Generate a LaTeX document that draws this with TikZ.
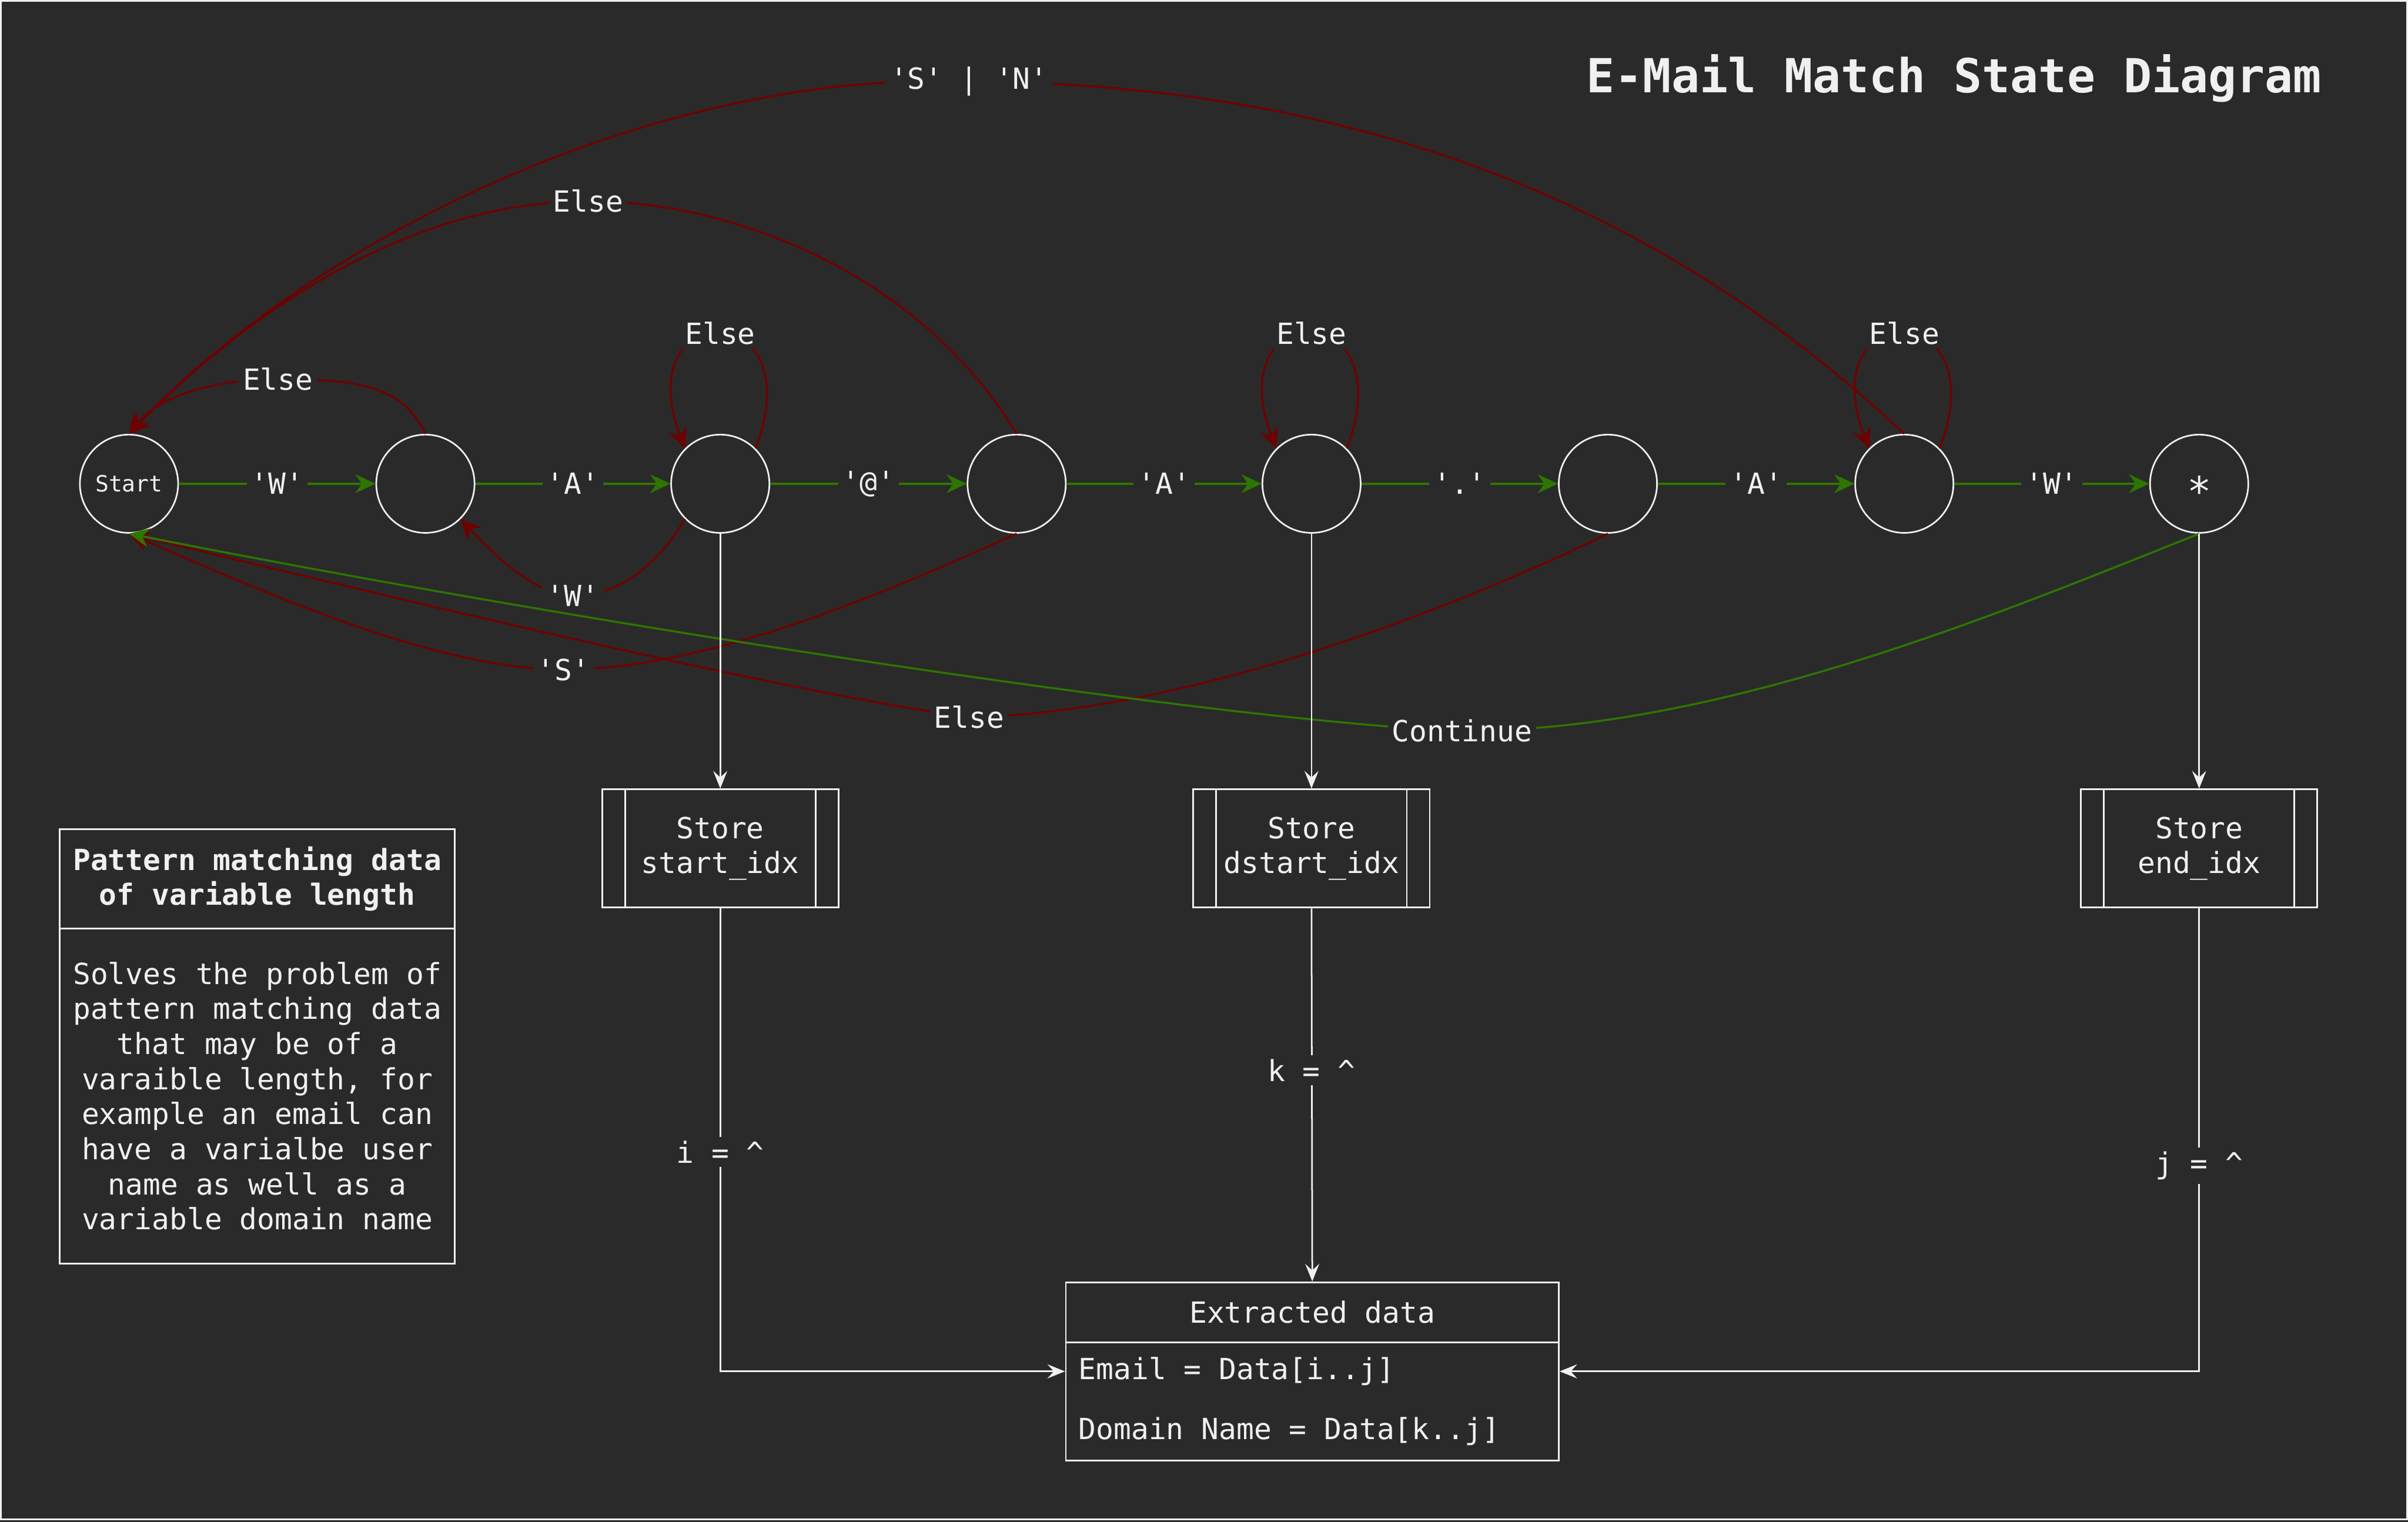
\documentclass[tikz,border=0pt]{standalone}
\usepackage{fontspec}
\setmonofont{DejaVu Sans Mono}
\usetikzlibrary{arrows.meta,calc}
\definecolor{bg}{HTML}{2A2A2A}
\definecolor{framec}{HTML}{F0F0F0}
\definecolor{fg}{HTML}{F0F0F0}
\definecolor{gr}{HTML}{2D7600}
\definecolor{rd}{HTML}{6F0000}
\newcommand\myfs{\fontsize{10.8pt}{13pt}\selectfont}
\begin{document}
\begin{tikzpicture}[x=0.02cm,y=-0.02cm,
  every node/.style={font=\ttfamily\myfs, text=fg},
  state/.style={circle, draw=fg, line width=0.6pt, minimum size=1.28cm, inner sep=0pt},
  gedge/.style={draw=gr, line width=0.75pt, -{Stealth[length=7.5pt,width=7pt,inset=2.5pt]}},
  redge/.style={draw=rd, line width=0.75pt, -{Stealth[length=7.5pt,width=7pt,inset=2.5pt]}},
  wedge/.style={draw=fg, line width=0.6pt, -{Stealth[length=6.5pt,width=5.2pt,inset=2.4pt]}},
  lbl/.style={fill=bg, inner sep=1.5pt},
  box/.style={draw=fg, line width=0.65pt, inner sep=0pt, align=center},
  proc/.style={box, minimum width=3.08cm, minimum height=1.54cm},
]
% background and frame
\fill[framec] (0,0) rectangle (1568,991);
\fill[bg] (1.3,1.3) rectangle (1566.7,988.8);
\fill[bg] (0,990.1) rectangle (1568,991);
\useasboundingbox (0,0) rectangle (1568,991);

% title
\node[anchor=east, inner sep=0pt, font=\ttfamily\bfseries\fontsize{17.4pt}{20pt}\selectfont] (title) at (1512,51) {E-Mail Match State Diagram};

% states
\node[state, font=\ttfamily\fontsize{8.3pt}{10pt}\selectfont] (s0) at (84,315) {Start};
\node[state] (s1) at (277,315) {};
\node[state] (s2) at (469,315) {};
\node[state] (s3) at (662,315) {};
\node[state] (s4) at (854,315) {};
\node[state] (s5) at (1047,315) {};
\node[state] (s6) at (1240,315) {};
\node[state, font=\ttfamily\fontsize{15pt}{15pt}\selectfont] (s7) at (1432,315) {\raisebox{-0.55em}[0pt][0pt]{*}};

% green forward transitions
\draw[gedge] (s0) -- node[lbl]{'W'} (s1);
\draw[gedge] (s1) -- node[lbl]{'A'} (s2);
\draw[gedge] (s2) -- node[lbl]{'@'} (s3);
\draw[gedge] (s3) -- node[lbl]{'A'} (s4);
\draw[gedge] (s4) -- node[lbl]{'.'} (s5);
\draw[gedge] (s5) -- node[lbl]{'A'} (s6);
\draw[gedge] (s6) -- node[lbl]{'W'} (s7);

% self loops
\draw[redge] (s2.north east) .. controls (530,192) and (408,192) .. (s2.north west) node[pos=0.5,lbl]{Else};
\draw[redge] (s4.north east) .. controls (915,192) and (793,192) .. (s4.north west) node[pos=0.5,lbl]{Else};
\draw[redge] (s6.north east) .. controls (1301,192) and (1179,192) .. (s6.north west) node[pos=0.5,lbl]{Else};

% upper returns to Start
\draw[redge] (s1.north) .. controls (262,250) and (230,247) .. (181,247) node[lbl]{Else} .. controls (130,247) and (100,262) .. (s0.north);
\draw[redge] (s3.north) .. controls (600,180) and (480,131) .. (383,131) node[lbl]{Else} .. controls (250,131) and (140,225) .. (s0.north);
\draw[redge] (s6.north) .. controls (1130,180) and (950,55) .. (631,53) node[lbl]{'S' | 'N'} .. controls (420,46) and (200,160) .. (s0.north);

% lower returns
\draw[redge] (s2.south west) .. controls (430,365) and (405,388) .. (373,388) node[lbl]{'W'} .. controls (350,388) and (322,362) .. (s1.south east);
\draw[redge] (s3.south) .. controls (600,375) and (470,436) .. (367,436) node[lbl]{'S'} .. controls (280,436) and (160,380) .. (s0.south);
\draw[redge] (s5.south) .. controls (960,390) and (780,464) .. (631,467) node[lbl]{Else} .. controls (520,452) and (300,400) .. (s0.south);
\draw[gedge] (s7.south) .. controls (1300,400) and (1120,476) .. (952,476) node[lbl]{Continue} .. controls (800,470) and (400,410) .. (s0.south);

% store boxes
\node[proc] (st1) at (469,552.5) {Store\\start\_idx};
\node[proc] (st2) at (854,552.5) {Store\\dstart\_idx};
\node[proc] (st3) at (1432,552.5) {Store\\end\_idx};
\foreach \n in {st1,st2,st3} {
  \draw[fg, line width=0.65pt] ([xshift=0.31cm]\n.north west) -- ([xshift=0.31cm]\n.south west);
  \draw[fg, line width=0.65pt] ([xshift=-0.31cm]\n.north east) -- ([xshift=-0.31cm]\n.south east);
}

% note box
\node[box, minimum width=5.14cm, minimum height=1.29cm, font=\ttfamily\bfseries\myfs] (nh) at (167.5,572.25) {Pattern matching data\\of variable length};
\node[box, minimum width=5.14cm, minimum height=4.37cm] (nb) at (167.5,713.75) {Solves the problem of\\pattern matching data\\that may be of a\\varaible length, for\\example an email can\\have a varialbe user\\name as well as a\\variable domain name};

% extracted data
\node[box, minimum width=6.42cm, minimum height=0.78cm] (exh) at (854.5,854.5) {Extracted data};
\node[box, minimum width=6.42cm, minimum height=1.54cm] (exb) at (854.5,912.5) {};
\node[anchor=west, inner sep=0pt] (email) at (702,893) {Email = Data[i..j]};
\node[anchor=west, inner sep=0pt] (dom) at (702,932) {Domain Name = Data[k..j]};

% vertical connectors
\draw[wedge] (s2.south) -- (st1.north);
\draw[wedge] (s4.south) -- (st2.north);
\draw[wedge] (s7.south) -- (st3.north);
\draw[wedge] (st1.south) |- (exb.west |- email);
\draw[wedge] (st2.south) -- (exh.north);
\draw[wedge] (st3.south) |- (exb.east |- email);
\node[lbl] (li) at (469,750) {i = \textasciicircum};
\node[lbl] (lk) at (854,697) {k = \textasciicircum};
\node[lbl] (lj) at (1432,759) {j = \textasciicircum};
\end{tikzpicture}
\end{document}
